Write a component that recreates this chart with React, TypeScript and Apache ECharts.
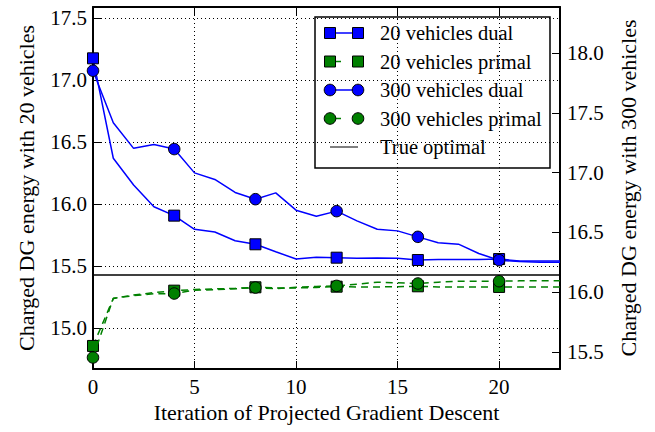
import React, { useEffect, useRef } from "react";
import * as echarts from "echarts";

const iterations = [0, 1, 2, 3, 4, 5, 6, 7, 8, 9, 10, 11, 12, 13, 14, 15, 16, 17, 18, 19, 20, 21, 22, 23];

const dual20 = [17.175, 16.369, 16.153, 15.978, 15.906, 15.796, 15.774, 15.704, 15.675, 15.615, 15.556, 15.57, 15.567, 15.563, 15.564, 15.562, 15.548, 15.553, 15.553, 15.553, 15.556, 15.54, 15.54, 15.54];
const primal20 = [14.855, 15.238, 15.266, 15.285, 15.301, 15.31, 15.315, 15.319, 15.328, 15.323, 15.323, 15.327, 15.333, 15.331, 15.331, 15.333, 15.336, 15.331, 15.331, 15.331, 15.331, 15.331, 15.331, 15.331];
const dual300 = [17.852, 17.417, 17.203, 17.236, 17.197, 16.998, 16.943, 16.834, 16.778, 16.831, 16.686, 16.636, 16.678, 16.597, 16.527, 16.513, 16.463, 16.413, 16.402, 16.324, 16.268, 16.257, 16.251, 16.25];
const primal300 = [15.454, 15.95, 15.971, 15.987, 15.989, 16.017, 16.021, 16.029, 16.039, 16.029, 16.042, 16.048, 16.053, 16.067, 16.084, 16.079, 16.073, 16.084, 16.092, 16.092, 16.092, 16.095, 16.095, 16.095];
const trueOptimal = 15.427;

const xTicks = [0, 5, 10, 15, 20];
const leftTicks = [15.0, 15.5, 16.0, 16.5, 17.0, 17.5];
const rightTicks = [15.5, 16.0, 16.5, 17.0, 17.5, 18.0];
const legendLabels = ["20 vehicles dual", "20 vehicles primal", "300 vehicles dual", "300 vehicles primal", "True optimal"];

const markEvery = 4;
const FONT = "Liberation Serif";
const FS = 21;
const NAME_FS = 22;
const LEGEND_FS = 20.5;
const BLUE = "#0000ff";
const GREEN = "#008000";

function buildData(vals: number[], sym: string) {
  return iterations.map((x, i) => ({
    value: [x, vals[i]],
    symbol: i % markEvery === 0 ? sym : "none",
  }));
}

export default function App() {
  const ref = useRef<HTMLDivElement>(null);
  useEffect(() => {
    if (!ref.current) return;
    const chart = echarts.init(ref.current, undefined, { renderer: "svg" });
    const axisLine = { show: true, onZero: false, lineStyle: { color: "#000", width: 2 } };
    const tick = { inside: true, length: 8, lineStyle: { color: "#000", width: 1 } };
    const label = { color: "#000", fontSize: FS, fontFamily: FONT };
    const nameStyle = { color: "#000", fontSize: NAME_FS, fontFamily: FONT };
    const grid = { show: true, lineStyle: { color: "#000", width: 1, type: [1, 3] } };

    const legendItems: any[] = [
      {
        type: "rect",
        shape: { x: 315, y: 17, width: 235, height: 151 },
        style: { fill: "#fff", stroke: "#000", lineWidth: 1.5 },
      },
    ];
    const styles = [
      { color: BLUE, sym: "rect", dash: null },
      { color: GREEN, sym: "rect", dash: [11, 30] },
      { color: BLUE, sym: "circle", dash: null },
      { color: GREEN, sym: "circle", dash: [11, 30] },
      { color: "#000", sym: null, dash: null },
    ];
    legendLabels.forEach((lab, i) => {
      const y = 33 + i * 28.5;
      const s = styles[i];
      legendItems.push({
        type: "line",
        shape: { x1: 330, y1: y, x2: 358, y2: y },
        style: { stroke: s.color, lineWidth: s.sym ? 1.5 : 1, lineDash: s.dash || undefined },
      });
      [330, 358].forEach((cx) => {
        if (s.sym === "rect") {
          legendItems.push({
            type: "rect",
            shape: { x: cx - 5.5, y: y - 5.5, width: 11, height: 11 },
            style: { fill: s.color, stroke: "#000", lineWidth: 1 },
          });
        } else if (s.sym === "circle") {
          legendItems.push({
            type: "circle",
            shape: { cx, cy: y, r: 5.8 },
            style: { fill: s.color, stroke: "#000", lineWidth: 1 },
          });
        }
      });
      legendItems.push({
        type: "text",
        x: 380,
        y,
        style: { text: lab, fontSize: LEGEND_FS, fontFamily: FONT, fill: "#000", verticalAlign: "middle", align: "left" },
      });
    });

    const option: any = {
      animation: false,
      backgroundColor: "#fff",
      textStyle: { fontFamily: FONT },
      grid: { left: 93, right: 95, top: 7, bottom: 63, containLabel: false },
      xAxis: [
        {
          type: "value",
          min: 0,
          max: 23,
          position: "bottom",
          axisLine,
          axisTick: { ...tick, customValues: xTicks },
          axisLabel: { ...label, margin: 7, customValues: xTicks },
          splitLine: grid,
          name: "Iteration of Projected Gradient Descent",
          nameLocation: "middle",
          nameGap: 29,
          nameTextStyle: nameStyle,
        },
        {
          type: "value",
          min: 0,
          max: 23,
          position: "top",
          axisLine,
          axisTick: { ...tick, customValues: xTicks },
          axisLabel: { show: false },
          splitLine: { show: false },
        },
      ],
      yAxis: [
        {
          type: "value",
          position: "left",
          min: 14.669,
          max: 17.589,
          axisLine,
          axisTick: { ...tick, customValues: leftTicks },
          axisLabel: { ...label, margin: 6, customValues: leftTicks, formatter: (v: number) => v.toFixed(1) },
          splitLine: grid,
          name: "Charged DG energy with 20 vehicles",
          nameLocation: "middle",
          nameGap: 56,
          nameTextStyle: nameStyle,
        },
        {
          type: "value",
          position: "right",
          min: 15.358,
          max: 18.385,
          axisLine,
          axisTick: { ...tick, customValues: rightTicks },
          axisLabel: { ...label, margin: 7, customValues: rightTicks, formatter: (v: number) => v.toFixed(1) },
          splitLine: { show: false },
          name: "Charged DG energy with 300 vehicles",
          nameLocation: "middle",
          nameGap: 57,
          nameTextStyle: nameStyle,
        },
      ],
      series: [
        {
          type: "line",
          name: legendLabels[0],
          xAxisIndex: 0,
          yAxisIndex: 0,
          data: buildData(dual20, "rect"),
          symbolSize: 11,
          showAllSymbol: true,
          itemStyle: { color: BLUE, borderColor: "#000", borderWidth: 1 },
          lineStyle: { color: BLUE, width: 1.5 },
          z: 3,
          markLine: {
            silent: true,
            symbol: "none",
            label: { show: false },
            lineStyle: { color: "#000", width: 1.5, type: "solid" },
            data: [{ yAxis: trueOptimal }],
          },
        },
        {
          type: "line",
          name: legendLabels[1],
          xAxisIndex: 0,
          yAxisIndex: 0,
          data: buildData(primal20, "rect"),
          symbolSize: 11,
          showAllSymbol: true,
          itemStyle: { color: GREEN, borderColor: "#000", borderWidth: 1 },
          lineStyle: { color: GREEN, width: 1.5, type: [7, 5] },
          z: 4,
        },
        {
          type: "line",
          name: legendLabels[2],
          xAxisIndex: 0,
          yAxisIndex: 1,
          data: buildData(dual300, "circle"),
          symbolSize: 11.5,
          showAllSymbol: true,
          itemStyle: { color: BLUE, borderColor: "#000", borderWidth: 1 },
          lineStyle: { color: BLUE, width: 1.5 },
          z: 5,
        },
        {
          type: "line",
          name: legendLabels[3],
          xAxisIndex: 0,
          yAxisIndex: 1,
          data: buildData(primal300, "circle"),
          symbolSize: 11.5,
          showAllSymbol: true,
          itemStyle: { color: GREEN, borderColor: "#000", borderWidth: 1 },
          lineStyle: { color: GREEN, width: 1.5, type: [7, 5] },
          z: 6,
        },
      ],
      graphic: [{ type: "group", z: 100, children: legendItems }],
    };
    chart.setOption(option);
    return () => chart.dispose();
  }, []);
  return <div ref={ref} style={{ position: "absolute", left: 0, top: 0, width: 655, height: 432 }} />;
}
